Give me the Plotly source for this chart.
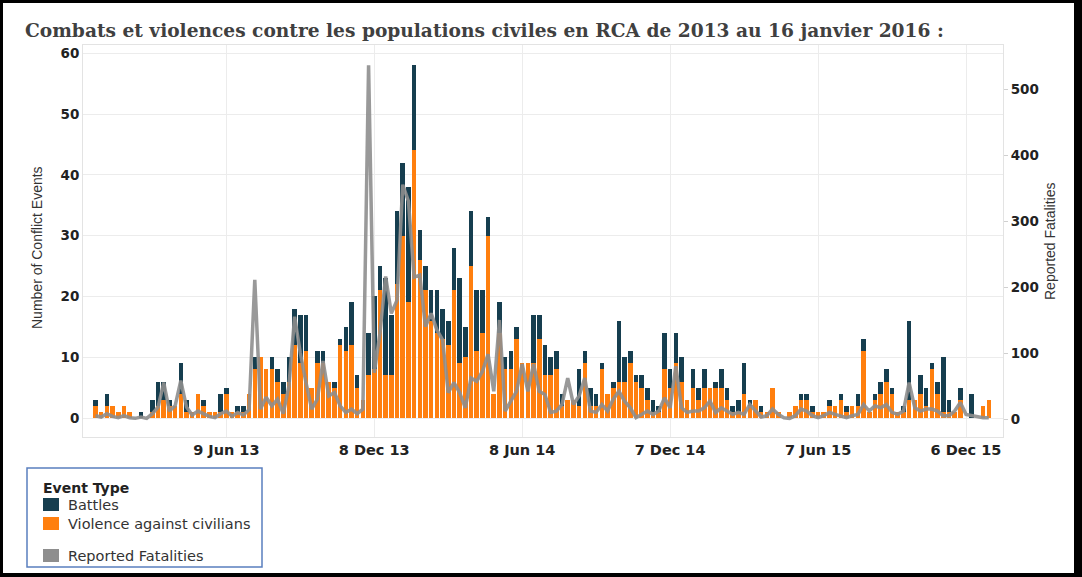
import datetime as dt
import plotly.graph_objects as go

# ---------------- data (weekly, weeks starting 30 Dec 2012) ----------------
week_start = "2012-12-30"
n_weeks = 158

civilians = [
    2, 1, 2, 2, 1, 2, 1, 0, 0, 0, 1, 2, 3, 2, 2, 4, 1, 1, 4, 2,
    1, 1, 1, 4, 1, 1, 1, 4, 8, 10, 8, 8, 6, 4, 6, 12, 9, 11, 5, 9,
    9, 6, 5, 12, 11, 12, 5, 3, 7, 8, 21, 7, 7, 22, 30, 19, 44, 26, 21, 16,
    14, 13, 12, 21, 9, 10, 25, 11, 14, 30, 4, 14, 8, 8, 13, 9, 9, 9, 13, 7,
    7, 8, 2, 3, 3, 2, 9, 2, 2, 8, 4, 5, 6, 6, 9, 6, 5, 3, 1, 1,
    8, 5, 9, 6, 3, 5, 3, 5, 5, 5, 5, 3, 1, 1, 4, 2, 3, 1, 1, 5,
    1, 0, 1, 2, 3, 3, 1, 1, 1, 2, 2, 3, 1, 2, 2, 11, 1, 3, 4, 6,
    4, 1, 1, 3, 3, 4, 2, 8, 4, 1, 1, 1, 3, 0, 0, 0, 2, 3,
]
battles = [
    1, 0, 2, 0, 0, 0, 0, 0, 1, 0, 2, 4, 3, 1, 0, 5, 2, 0, 0, 1,
    0, 0, 3, 1, 0, 1, 1, 0, 2, 0, 0, 2, 2, 2, 4, 6, 8, 6, 0, 2,
    2, 0, 1, 1, 4, 7, 2, 0, 7, 12, 4, 16, 10, 12, 12, 19, 14, 5, 4, 5,
    7, 5, 4, 7, 14, 5, 9, 10, 7, 3, 0, 5, 2, 3, 2, 0, 0, 8, 4, 5,
    3, 3, 2, 0, 0, 6, 2, 3, 2, 1, 0, 1, 10, 4, 2, 1, 2, 2, 2, 1,
    6, 3, 5, 4, 0, 3, 2, 3, 0, 1, 3, 2, 1, 2, 5, 1, 0, 1, 0, 0,
    0, 0, 0, 0, 1, 1, 1, 0, 0, 1, 0, 1, 1, 0, 2, 2, 0, 1, 2, 2,
    1, 0, 1, 13, 0, 3, 3, 1, 2, 9, 2, 0, 2, 0, 4, 0, 0, 0,
]
fatalities = [
    5, 3, 8, 4, 2, 5, 2, 1, 3, 1, 8, 18, 55, 12, 20, 58, 18, 6, 12, 8,
    4, 2, 8, 12, 4, 10, 6, 14, 211, 15, 33, 20, 30, 8, 50, 155, 100, 55, 15, 30,
    88, 35, 40, 20, 10, 15, 8, 15, 536, 70, 130, 216, 160, 180, 355, 330, 215, 218, 140, 160,
    135, 120, 40, 55, 40, 17, 62, 57, 72, 98, 42, 150, 12, 27, 42, 83, 42, 83, 42, 37,
    10, 12, 22, 62, 22, 35, 62, 12, 10, 22, 12, 30, 42, 27, 17, 2, 7, 12, 7, 12,
    32, 17, 80, 17, 10, 12, 12, 17, 27, 10, 17, 12, 7, 10, 7, 22, 12, 3, 5, 15,
    7, 2, 1, 5, 15, 12, 5, 2, 5, 10, 7, 5, 2, 5, 7, 22, 12, 20, 17, 22,
    10, 7, 12, 55, 17, 12, 15, 15, 12, 5, 5, 12, 25, 7, 5, 3, 2, 2,
]

tick_dates = ["2013-06-09", "2013-12-08", "2014-06-08", "2014-12-07", "2015-06-07", "2015-12-06"]
tick_text = ["9 Jun 13", "8 Dec 13", "8 Jun 14", "7 Dec 14", "7 Jun 15", "6 Dec 15"]
left_ticks = [0, 10, 20, 30, 40, 50, 60]
right_ticks = [0, 100, 200, 300, 400, 500]

title_text = "Combats et violences contre les populations civiles en RCA de 2013 au 16 janvier 2016 :"
legend_title = "Event Type"
legend_labels = ["Battles", "Violence against civilians", "Reported Fatalities"]

# ---------------- styles ----------------
C_BATTLE = "#163e4f"
C_CIV = "#ff7f0e"
C_FAT = "#8e8e8e"
GRID = "#ececec"
TXT = "#333333"

W, H = 1082, 577
L, R, T, B = 83, 1003, 45, 437  # plot area in pixels

d0 = dt.date.fromisoformat(week_start)
weeks = [(d0 + dt.timedelta(days=7 * i)).isoformat() for i in range(n_weeks)]
bar_w = 7 * 0.8 * 86400000


def px_x(x):
    return (x - L) / (R - L)


def px_y(y):
    return (B - y) / (B - T)


fig = go.Figure()
fig.add_trace(go.Bar(x=weeks, y=civilians, name=legend_labels[1], marker=dict(color=C_CIV, line=dict(width=0)),
                     width=bar_w, showlegend=False))
fig.add_trace(go.Bar(x=weeks, y=battles, name=legend_labels[0], marker=dict(color=C_BATTLE, line=dict(width=0)),
                     width=bar_w, showlegend=False))
fig.add_trace(go.Scatter(x=weeks, y=fatalities, name=legend_labels[2], yaxis="y2", mode="lines",
                         line=dict(color=C_FAT, width=3.5), opacity=0.9, showlegend=False))

shapes = []
annotations = []

# outer black frame
for (x0, y0, x1, y1) in [(0, 0, W, 3), (0, 0, 3, H), (1074, 0, W, H), (0, 573, W, H)]:
    shapes.append(dict(type="rect", xref="paper", yref="paper", x0=px_x(x0), x1=px_x(x1),
                       y0=px_y(y0), y1=px_y(y1), fillcolor="black", line=dict(width=0), layer="above"))

# legend box
shapes.append(dict(type="rect", xref="paper", yref="paper", x0=px_x(27), x1=px_x(262), y0=px_y(468), y1=px_y(567),
                   line=dict(color="#5a7fbf", width=1.5), fillcolor="white", layer="above"))
annotations.append(dict(xref="paper", yref="paper", x=px_x(41), y=px_y(488), xanchor="left", yanchor="middle",
                        text="<b>" + legend_title + "</b>", showarrow=False,
                        font=dict(family="DejaVu Sans", size=14, color="#222222")))
sw = [(C_BATTLE, 498, 505), (C_CIV, 517, 524), (C_FAT, 549, 556)]
for (col, ytop, ytxt), lab in zip(sw, legend_labels):
    shapes.append(dict(type="rect", xref="paper", yref="paper", x0=px_x(43), x1=px_x(59), y0=px_y(ytop + 13),
                       y1=px_y(ytop), fillcolor=col, line=dict(width=0), layer="above"))
    annotations.append(dict(xref="paper", yref="paper", x=px_x(66), y=px_y(ytxt), xanchor="left", yanchor="middle",
                            text=lab, showarrow=False, font=dict(family="DejaVu Sans", size=14.5, color=TXT)))

# axis titles
annotations.append(dict(xref="paper", yref="paper", x=px_x(37), y=px_y(248), text="Number of Conflict Events",
                        textangle=-90, showarrow=False, xanchor="center", yanchor="middle",
                        font=dict(family="Liberation Sans", size=14, color=TXT)))
annotations.append(dict(xref="paper", yref="paper", x=px_x(1050), y=px_y(241), text="Reported Fatalities",
                        textangle=-90, showarrow=False, xanchor="center", yanchor="middle",
                        font=dict(family="Liberation Sans", size=14, color=TXT)))

x_min = (dt.date(2012, 12, 14)).isoformat() + " 16:00"
x_max = (dt.date(2016, 1, 20)).isoformat() + " 12:00"

fig.update_layout(
    width=W, height=H,
    margin=dict(l=L, r=W - R, t=T, b=H - B, pad=0),
    paper_bgcolor="white", plot_bgcolor="white",
    barmode="stack", bargap=0,
    showlegend=False,
    title=dict(text="<b>" + title_text + "</b>", x=25 / W, xanchor="left", xref="container",
               y=1 - 30 / H, yanchor="middle", yref="container",
               font=dict(family="DejaVu Serif", size=18.6, color="#404040")),
    xaxis=dict(type="date", range=[x_min, x_max], tickvals=tick_dates, ticktext=tick_text,
               showgrid=True, gridcolor=GRID, gridwidth=1, showline=True, linecolor="#e3e3e3",
               mirror=True, ticks="", tickfont=dict(family="DejaVu Sans", size=14.5, color="#222222", weight="bold")),
    yaxis=dict(range=[-(B - 418) / 6.08, (418 - T) / 6.08], tickvals=left_ticks, showgrid=True,
               gridcolor=GRID, zeroline=False, showline=True, linecolor="#e3e3e3", ticks="",
               tickfont=dict(family="DejaVu Sans", size=13.5, color="#222222", weight="bold")),
    yaxis2=dict(range=[-(B - 419) / 0.66, (419 - T) / 0.66], tickvals=right_ticks, overlaying="y",
                side="right", anchor="x", showgrid=False, zeroline=False, showline=True,
                linecolor="#e3e3e3", ticks="outside", ticklen=4, tickcolor="#d0d0d0",
                tickfont=dict(family="DejaVu Sans", size=13.5, color="#222222", weight="bold")),
    shapes=shapes,
    annotations=annotations,
)

fig.write_html("out.html", config={"displayModeBar": False},
               post_script="document.body.style.margin='0';document.body.style.overflow='hidden';")
